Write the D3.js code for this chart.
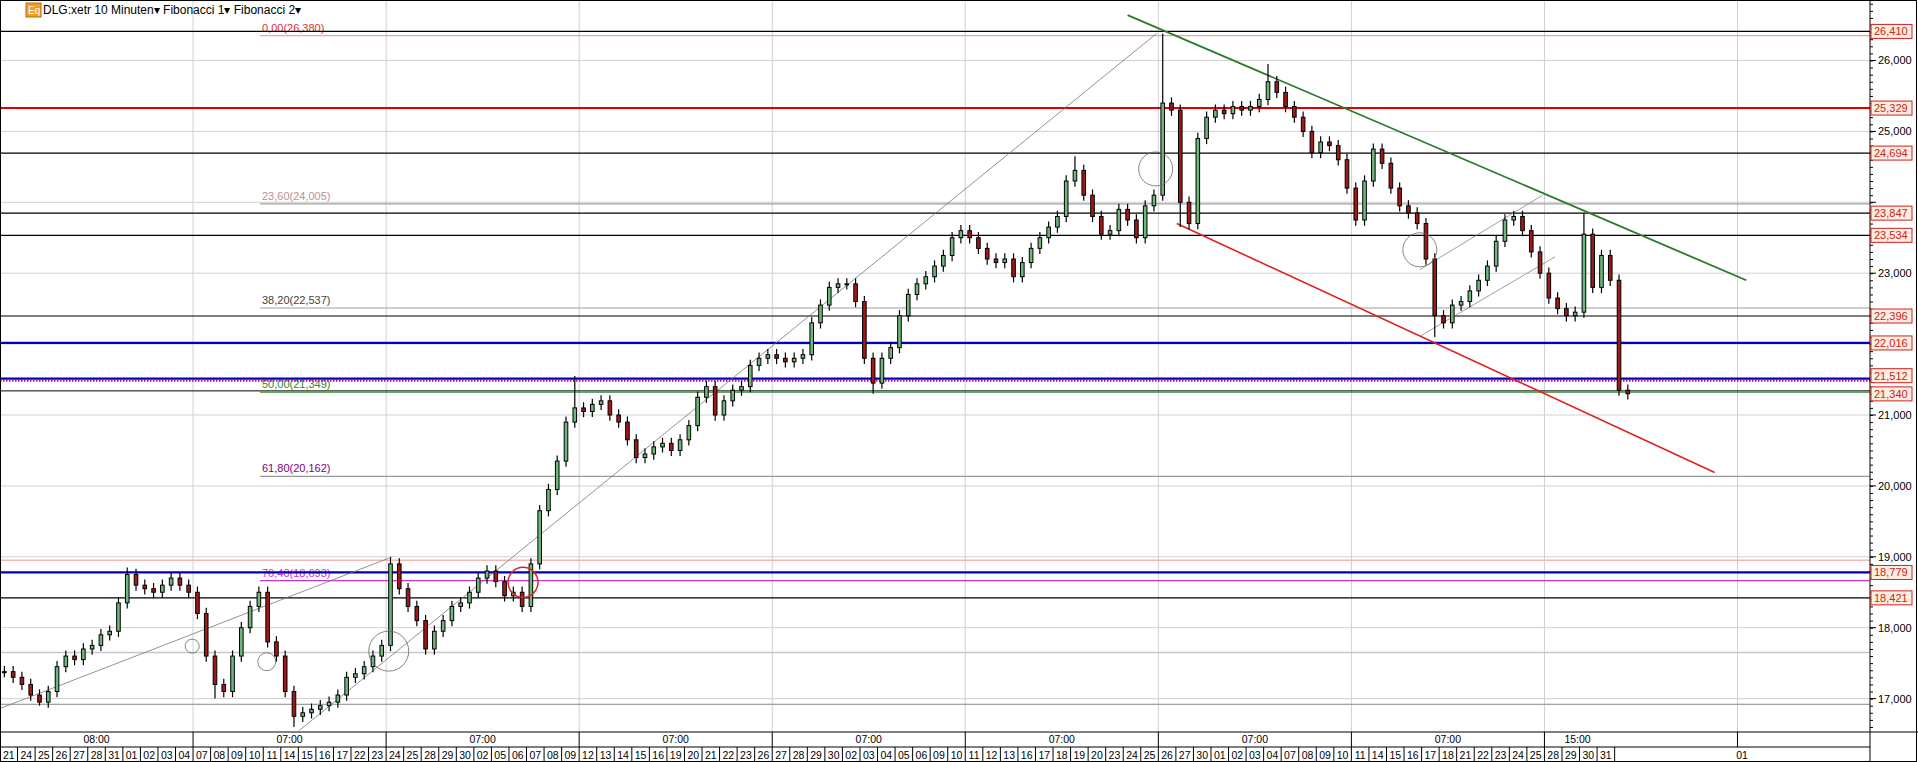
<!DOCTYPE html>
<html><head><meta charset="utf-8">
<script src="https://cdn.jsdelivr.net/npm/d3@7"></script>
<style>body{margin:0;background:#fff;font-family:"Liberation Sans",Arial,sans-serif}</style>
</head><body><svg id="c" width="1918" height="762"></svg>
<script>
const closes=[17.38,17.3,17.2,17.05,16.95,17.1,17.45,17.6,17.55,17.7,17.75,17.9,17.95,18.35,18.75,18.6,18.55,18.5,18.6,18.7,18.6,18.5,18.2,17.6,17.2,17.1,17.6,18.0,18.3,18.5,
17.8,17.6,17.1,16.75,16.8,16.85,16.9,16.95,17.05,17.3,17.35,17.45,17.6,17.75,18.9,18.55,18.3,18.1,17.7,17.95,18.1,18.3,18.35,18.5,18.7,18.8,18.65,18.45,18.5,18.3,
18.9,19.65,19.95,20.35,20.9,21.1,21.05,21.15,21.2,21.0,20.9,20.65,20.4,20.45,20.55,20.6,20.5,20.65,20.85,21.25,21.4,21.0,21.2,21.35,21.4,21.7,21.8,21.85,21.8,21.75,
21.8,21.85,22.3,22.55,22.8,22.85,22.85,22.6,21.8,21.45,21.8,21.95,22.4,22.7,22.85,22.95,23.1,23.25,23.5,23.6,23.5,23.35,23.2,23.15,23.2,22.95,23.15,23.35,23.5,23.65,
23.8,24.3,24.45,24.1,23.8,23.55,23.6,23.9,23.75,23.5,23.95,24.1,25.4,25.3,24.0,23.7,24.9,25.2,25.3,25.25,25.35,25.3,25.35,25.45,25.7,25.55,25.35,25.2,25.0,24.7,
24.85,24.8,24.6,24.2,23.75,24.3,24.75,24.55,24.2,23.95,23.85,23.7,23.2,22.4,22.3,22.55,22.6,22.75,22.9,23.1,23.45,23.75,23.8,23.6,23.3,23.0,22.65,22.5,22.4,22.45,
23.55,22.8,23.25,22.9,21.35,21.3];
const wickHigh=[[44,19.0],[65,21.55],[132,26.38],[144,25.95],[180,23.85],[14,18.85],[122,24.65]];
const wickLow=[[33,16.6],[24,17.0],[99,21.3],[134,23.65],[163,22.1],[185,21.22],[4,16.9]];
const levels=[{v:26.41,c:"#000",w:1.3,box:true},{v:25.329,c:"#e00000",w:2,box:true},{v:24.694,c:"#000",w:1.2,box:true},{v:23.847,c:"#000",w:1.2,box:true},{v:23.534,c:"#000",w:1.2,box:true},{v:22.396,c:"#000",w:1.2,box:true},{v:22.016,c:"#0000cc",w:2.2,box:true},{v:21.512,c:"#0000aa",w:2.2,box:true,dy:-3},{v:21.34,c:"#000",w:1,box:true,dy:3},{v:18.779,c:"#0000aa",w:2.2,box:true},{v:18.421,c:"#000",w:1.2,box:true},{v:18.95,c:"#f4b6b6",w:1.5},{v:17.65,c:"#c8c8c8",w:1.5},{v:16.92,c:"#888",w:1}];
const fibs=[{t:"0,00(26,380)",v:26.38,c:"#f4a0a0",tc:"#e03030"},{t:"23,60(24,005)",v:24.005,c:"#a0a0a0",tc:"#c09090"},{t:"38,20(22,537)",v:22.537,c:"#a0a0a0",tc:"#444"},{t:"50,00(21,349)",v:21.349,c:"#2e8b2e",tc:"#2e8b2e"},{t:"61,80(20,162)",v:20.162,c:"#999",tc:"#800080"},{t:"76,40(18,693)",v:18.693,c:"#cc33cc",tc:"#cc33cc"}];
const yTicks=[17,18,19,20,21,22,23,24,25,26];
const days=["21","24","25","26","27","28","31","01","02","03","04","07","08","09","10","11","14","15","16","17","22","23","24","25","28","29","30","02","05","06","07","08","09","12","13","14","15","16","19","20","21","22","23","26","27","28","29","30","02","03","04","05","06","09","10","11","12","13","16","17","18","19","20","23","24","25","26","27","30","01","02","03","04","07","08","09","10","11","14","15","16","17","18","21","22","23","24","25","28","29","30","31"];
const sections=["08:00","07:00","07:00","07:00","07:00","07:00","07:00","07:00","15:00",""];
const trendLines=[{a:[-0.5,16.86],b:[43.8,18.98],c:"#777",w:0.8},{a:[33.6,16.55],b:[131.3,26.38],c:"#777",w:0.8},{a:[128,26.64],b:[198.5,22.9],c:"#2a7a2a",w:1.8},{a:[133.6,23.7],b:[194.9,20.19],c:"#e02020",w:1.6},{a:[161.3,23.05],b:[175.3,24.1],c:"#888",w:0.8},{a:[161.3,22.11],b:[176.7,23.23],c:"#888",w:0.8}];
const circles=[{k:131.2,v:24.47,r:17,c:"#666"},{k:161.3,v:23.33,r:17,c:"#666"},{k:21.4,v:17.74,r:7,c:"#666"},{k:29.9,v:17.52,r:9,c:"#666"},{k:43.8,v:17.67,r:20,c:"#666"},{k:59.1,v:18.64,r:15,c:"#e02020"}];

const W=1870,H=732,svg=d3.select("#c");
const y=d3.scaleLinear().domain([16.529,26.853]).range([H,0]);
const hw=17.55/2;
const x=d3.scaleLinear().domain([-0.5,212.6]).range([0,W]);
const fmt=v=>d3.format(".3f")(v).replace(".",",");
const g=svg.append("g");
const secX=d3.range(1,10).map(i=>x(i*22-0.5));
g.selectAll(".vg").data(secX).join("line").attr("x1",d=>d).attr("x2",d=>d).attr("y1",0).attr("y2",H).attr("stroke","#d0d0d0");
g.selectAll(".hg").data(yTicks).join("line").attr("x1",0).attr("x2",W).attr("y1",d=>y(d)).attr("y2",d=>y(d)).attr("stroke","#d0d0d0");
fibs.forEach(f=>{g.append("line").attr("x1",260).attr("x2",W).attr("y1",y(f.v)+2).attr("y2",y(f.v)+2).attr("stroke",f.c).attr("stroke-width",1.2);
g.append("text").attr("x",262).attr("y",y(f.v)-2).attr("fill",f.tc).attr("font-size",11).text(f.t);});
levels.forEach(l=>{g.append("line").attr("x1",0).attr("x2",W).attr("y1",y(l.v)).attr("y2",y(l.v)).attr("stroke",l.c).attr("stroke-width",l.w);});
g.append("line").attr("x1",0).attr("x2",W).attr("y1",y(21.512)+2).attr("y2",y(21.512)+2).attr("stroke","#c000c0").attr("stroke-width",2).attr("stroke-dasharray","1.5,1.5");
trendLines.forEach(t=>g.append("line").attr("x1",x(t.a[0])).attr("y1",y(t.a[1])).attr("x2",x(t.b[0])).attr("y2",y(t.b[1])).attr("stroke",t.c).attr("stroke-width",t.w));
const hiMap=new Map(wickHigh),loMap=new Map(wickLow);
const cd=closes.map((c,i)=>{const o=i?closes[i-1]:c;const h=hiMap.get(i)??Math.max(o,c)+0.08;const l=loMap.get(i)??Math.min(o,c)-0.08;return{i,o,c,h,l};});
const cg=g.append("g");
cg.selectAll(".w").data(cd).join("line").attr("x1",d=>x(d.i)).attr("x2",d=>x(d.i)).attr("y1",d=>y(d.h)).attr("y2",d=>y(d.l)).attr("stroke","#000").attr("stroke-width",1.2);
cg.selectAll(".b").data(cd).join("rect").attr("x",d=>x(d.i)-1.8).attr("width",3.6).attr("y",d=>y(Math.max(d.o,d.c))).attr("height",d=>Math.max(1,Math.abs(y(d.o)-y(d.c)))).attr("fill",d=>d.c>=d.o?"#6fb87c":"#a01818").attr("stroke","#000").attr("stroke-width",1);
circles.forEach(c=>g.append("circle").attr("cx",x(c.k)).attr("cy",y(c.v)).attr("r",c.r).attr("fill","none").attr("stroke",c.c).attr("stroke-width",c.c=="#666"?0.8:1.5));
svg.append("rect").attr("x",26).attr("y",3).attr("width",15).attr("height",14).attr("fill","#f0a020").attr("stroke","#b07010");
svg.append("text").attr("x",28).attr("y",14).attr("font-size",10).attr("fill","#fff").text("Eq");
svg.append("text").attr("x",43).attr("y",14).attr("font-size",12).attr("fill","#000").text("DLG:xetr 10 Minuten▾   Fibonacci 1▾   Fibonacci 2▾");
svg.append("rect").attr("x",0.5).attr("y",0.5).attr("width",1916).attr("height",761).attr("fill","none").attr("stroke","#000");
svg.append("line").attr("x1",W).attr("x2",W).attr("y1",0).attr("y2",762).attr("stroke","#000");
svg.append("line").attr("x1",0).attr("x2",1918).attr("y1",H).attr("y2",H).attr("stroke","#000");
svg.append("line").attr("x1",0).attr("x2",W).attr("y1",747).attr("y2",747).attr("stroke","#000");
const ax=svg.append("g").attr("transform",`translate(${W},0)`);
ax.call(d3.axisRight(y).tickValues(d3.range(166,269).map(d=>d/10)).tickSize(3).tickFormat(""));
ax.select(".domain").remove();
ax.selectAll(".tick line").attr("stroke","#000");
const boxes=levels.filter(l=>l.box);
yTicks.forEach(v=>{ax.append("line").attr("x1",0).attr("x2",6).attr("y1",y(v)).attr("y2",y(v)).attr("stroke","#000");
if(boxes.some(b=>Math.abs(y(b.v)+(b.dy||0)-y(v))<13))return;
ax.append("text").attr("x",8).attr("y",y(v)+4).attr("font-size",11).attr("fill","#000").text(fmt(v));});
boxes.forEach(l=>{const yy=y(l.v)+(l.dy||0);ax.append("rect").attr("x",1).attr("y",yy-7).attr("width",41).attr("height",14).attr("fill","#fdeee0").attr("stroke","#d02020");
ax.append("text").attr("x",4).attr("y",yy+4).attr("font-size",11).attr("fill","#d02020").text(fmt(l.v));});
const bx=svg.append("g");
const secB=[0,...secX,W];
sections.forEach((s,i)=>{if(i>0)bx.append("line").attr("x1",secB[i]).attr("x2",secB[i]).attr("y1",H).attr("y2",747).attr("stroke","#000");
bx.append("text").attr("x",i==8?secB[i]+20:(secB[i]+secB[i+1])/2).attr("y",743).attr("font-size",10.5).attr("text-anchor",i==8?"start":"middle").text(s);});
days.forEach((d,i)=>{const x0=x(i*2-0.5);bx.append("line").attr("x1",x0).attr("x2",x0).attr("y1",747).attr("y2",762).attr("stroke","#000");
bx.append("text").attr("x",x0+hw).attr("y",759).attr("font-size",10.5).attr("text-anchor","middle").text(d);});
const xe=x(days.length*2-0.5);
bx.append("line").attr("x1",xe).attr("x2",xe).attr("y1",747).attr("y2",762).attr("stroke","#000");
bx.append("text").attr("x",1742).attr("y",759).attr("font-size",10.5).attr("text-anchor","middle").text("01");
</script></body></html>
